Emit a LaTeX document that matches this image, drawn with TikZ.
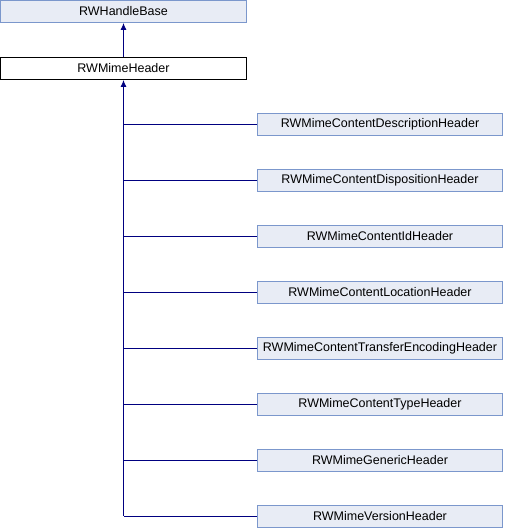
\documentclass[tikz,border=0pt]{standalone}
\usepackage{fontspec}
\setmainfont{Liberation Sans}
\usetikzlibrary{arrows.meta}
\definecolor{clsfill}{HTML}{E8ECF5}
\definecolor{clsborder}{HTML}{7B97CC}
\definecolor{edgeblue}{HTML}{000080}
\tikzstyle{every node}=[font=\fontsize{12.5}{14}\selectfont]
\tikzstyle{every path}=[line width=0.9pt]
\tikzstyle{cls}=[draw=clsborder,fill=clsfill,minimum width=245pt,minimum height=22pt,inner sep=0pt]
\tikzstyle{link}=[draw=edgeblue]
\tikzstyle{isa}=[link,-{Latex[length=7pt,width=6pt]}]
\begin{document}
\begin{tikzpicture}[x=1pt,y=-1pt]
\useasboundingbox (0,0) rectangle (504,528);
\node[cls,minimum width=246pt] (base) at (123.5,11.5) {RWHandleBase};
\node[cls,minimum width=246pt,fill=white,draw=black] (hdr) at (123.5,68.5) {RWMimeHeader};
% derived classes
\foreach \name/\txt [count=\i from 0] in {desc/RWMimeContentDescriptionHeader,
    disp/RWMimeContentDispositionHeader,cid/RWMimeContentIdHeader,
    loc/RWMimeContentLocationHeader,enc/RWMimeContentTransferEncodingHeader,
    type/RWMimeContentTypeHeader,gen/RWMimeGenericHeader,ver/RWMimeVersionHeader}
{
    \node[cls] (\name) at (380,124+56*\i) {\txt};
    \draw[link] (\name.west) -- (\name.west -| hdr.south);
}
\coordinate (trunk) at (ver.west -| hdr.south);
\draw[isa] (hdr) -- (base);
\draw[isa] (trunk) -- (hdr);
\end{tikzpicture}
\end{document}
